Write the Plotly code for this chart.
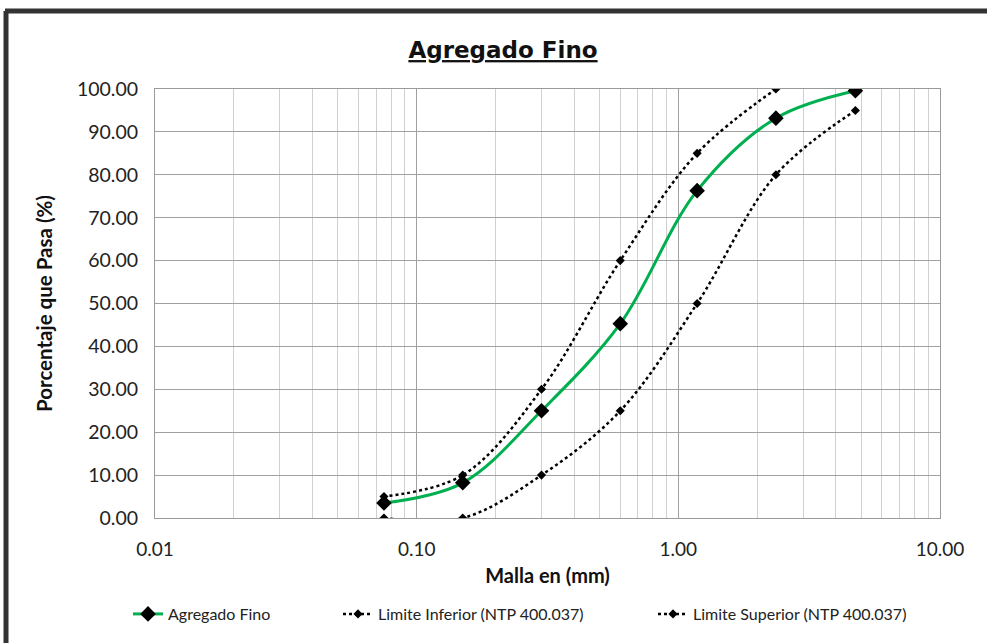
import plotly.graph_objects as go

sieves = [4.75, 2.36, 1.18, 0.60, 0.30, 0.15, 0.075]
agregado_fino = [99.6, 93.2, 76.3, 45.3, 25.0, 8.2, 3.5]
limite_inferior = [95, 80, 50, 25, 10, 0, 0]
sieves_sup = [2.36, 1.18, 0.60, 0.30, 0.15, 0.075]
limite_superior = [100, 85, 60, 30, 10, 5]

x_major = [0.01, 0.1, 1, 10]
x_major_text = ["0.01", "0.10", "1.00", "10.00"]
x_minor = [m * d for d in [0.01, 0.1, 1] for m in range(1, 10)] + [10]
y_ticks = [0, 10, 20, 30, 40, 50, 60, 70, 80, 90, 100]

W, H = 987, 643
L, R, T, B = 155, 47, 89, 125
pw, ph = W - L - R, H - T - B

def px(xp):
    return (xp - L) / pw

def py(yp):
    return (H - B - yp) / ph

FONT = "Lato"

fig = go.Figure()
fig.add_trace(go.Scatter(
    x=sieves, y=agregado_fino, name="Agregado Fino", mode="lines+markers",
    line=dict(color="#00B050", width=3, shape="spline", smoothing=1.0),
    marker=dict(symbol="diamond", size=12, color="black"), legend="legend",
))
fig.add_trace(go.Scatter(
    x=sieves, y=limite_inferior, name="Limite Inferior (NTP 400.037)", mode="lines+markers",
    line=dict(color="black", width=2.5, dash="dot", shape="spline", smoothing=1.0),
    marker=dict(symbol="diamond", size=7, color="black"), legend="legend2",
))
fig.add_trace(go.Scatter(
    x=sieves_sup, y=limite_superior, name="Limite Superior (NTP 400.037)", mode="lines+markers",
    line=dict(color="black", width=2.5, dash="dot", shape="spline", smoothing=1.0),
    marker=dict(symbol="diamond", size=7, color="black"), legend="legend3",
))
# invisible trace to bind the overlay axis
fig.add_trace(go.Scatter(x=[1], y=[50], xaxis="x2", mode="markers",
                         marker=dict(opacity=0), showlegend=False, hoverinfo="skip"))

legend_font = dict(size=16, family=FONT, color="#222")

def leg(xpix):
    return dict(orientation="h", x=px(xpix), xanchor="left", y=py(614), yanchor="middle",
                font=legend_font, bgcolor="rgba(0,0,0,0)")

fig.update_layout(
    width=W, height=H,
    margin=dict(l=L, r=R, t=T, b=B, autoexpand=False),
    paper_bgcolor="white", plot_bgcolor="white",
    font=dict(family=FONT, color="#222"),
    title=dict(text="<b><u>Agregado Fino</u></b>", x=503 / W, xanchor="center",
               y=1 - 50 / H, yanchor="middle",
               font=dict(family="Century Gothic, URW Gothic, DejaVu Sans", size=23, color="#111")),
    xaxis=dict(type="log", range=[-2, 1], tickvals=x_minor,
               ticktext=[x_major_text[x_major.index(v)] if v in x_major else "" for v in x_minor],
               showgrid=True, gridcolor="#D0D0D0", gridwidth=1,
               showline=True, linecolor="#9a9a9a", mirror=True,
               ticks="outside", ticklen=14, tickcolor="rgba(0,0,0,0)",
               tickfont=dict(size=19, family=FONT, color="#222"),
               title=dict(text="<b>Malla en (mm)</b>", font=dict(size=20, family=FONT, color="#111"),
                          standoff=10),
               zeroline=False),
    xaxis2=dict(type="log", range=[-2, 1], overlaying="x", tickvals=x_major,
                showticklabels=False, showgrid=True, gridcolor="#A0A0A0", gridwidth=1,
                ticks="", showline=False, zeroline=False),
    yaxis=dict(range=[0, 100], tickvals=y_ticks, tickformat=".2f",
               showgrid=True, gridcolor="#A0A0A0", gridwidth=1,
               showline=True, linecolor="#9a9a9a", mirror=True,
               ticks="outside", ticklen=12, tickcolor="rgba(0,0,0,0)",
               tickfont=dict(size=19.5, family=FONT, color="#222"),
               title=dict(text="<b>Porcentaje que Pasa (%)</b>",
                          font=dict(size=20.5, family=FONT, color="#111"), standoff=18),
               zeroline=False),
    legend=leg(128),
    legend2=leg(338),
    legend3=leg(653),
    showlegend=True,
)

# outer frame (chart border)
fig.add_shape(type="line", xref="paper", yref="paper",
              x0=px(5), x1=px(990), y0=py(11), y1=py(11),
              line=dict(color="#333", width=5))
fig.add_shape(type="line", xref="paper", yref="paper",
              x0=px(6), x1=px(6), y0=py(11), y1=py(650),
              line=dict(color="#333", width=5))

fig.write_html("out.html")
